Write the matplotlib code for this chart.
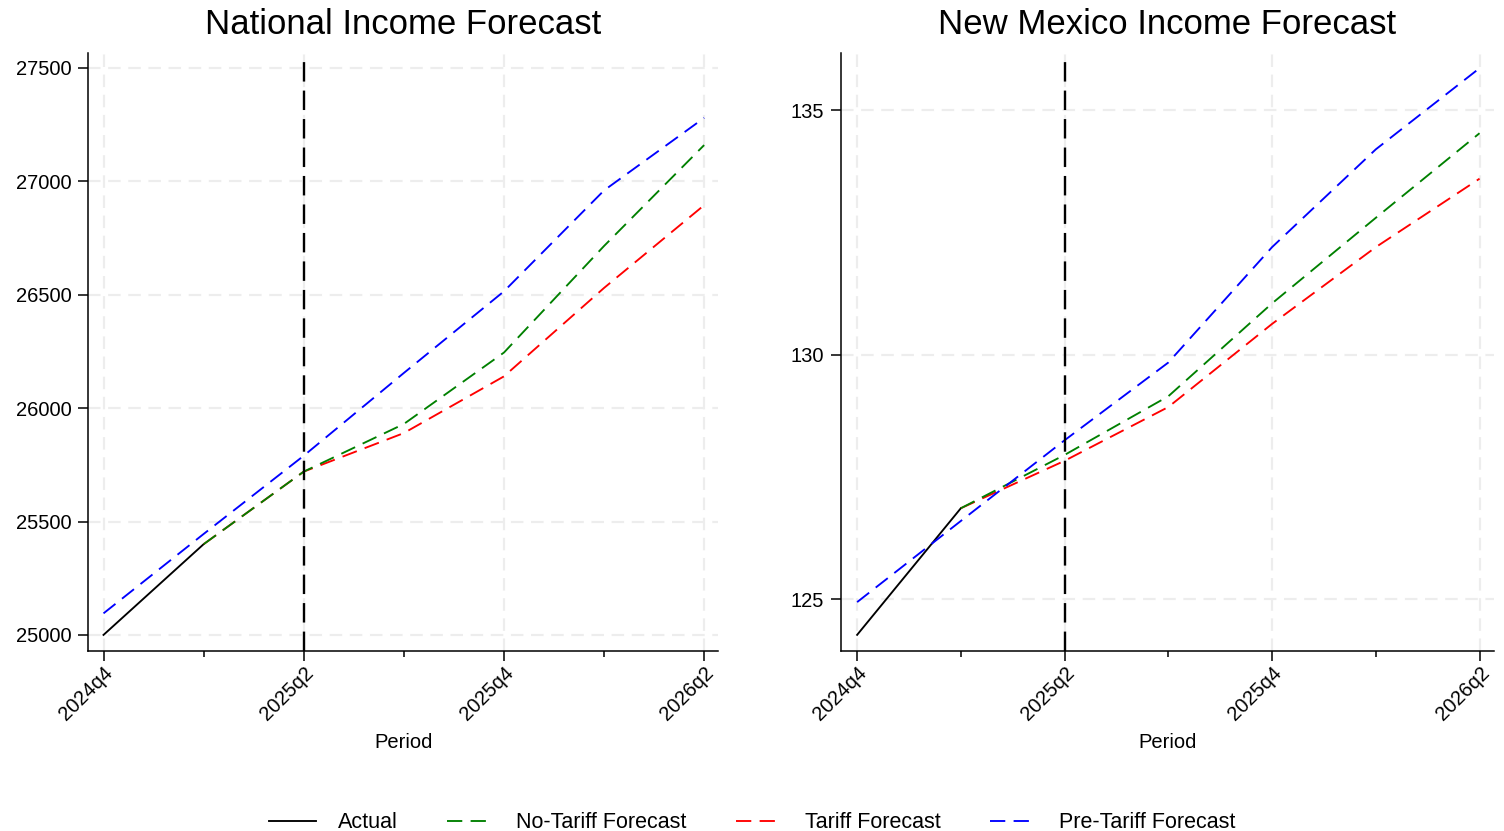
import matplotlib

matplotlib.use('Agg')
import matplotlib.pyplot as plt
import numpy as np

plt.rcParams['font.family'] = ['Liberation Sans', 'DejaVu Sans']
plt.rcParams['lines.scale_dashes'] = False

# quarters on the x axis (0 = 2024q4 ... 6 = 2026q2)
periods = ['2024q4', '2025q1', '2025q2', '2025q3', '2025q4', '2026q1', '2026q2']
labeled_periods = ['2024q4', '2025q2', '2025q4', '2026q2']

# national income
nat_actual = [25000, 25400]
nat_no_tariff = [25400, 25720, 25930, 26245, 26715, 27160]
nat_tariff = [25400, 25720, 25890, 26140, 26530, 26895]
nat_pre_tariff = [25095, 25445, 25790, 26155, 26515, 26960, 27280]
nat_yticks = [25000, 25500, 26000, 26500, 27000, 27500]

# New Mexico income
nm_actual = [124.27, 126.86]
nm_no_tariff = [126.86, 127.95, 129.15, 131.05, 132.80, 134.53]
nm_tariff = [126.86, 127.83, 128.93, 130.63, 132.20, 133.60]
nm_pre_tariff = [124.94, 126.60, 128.25, 129.84, 132.20, 134.20, 135.86]
nm_yticks = [125, 130, 135]

tariff_start = '2025q2'

x_all = np.arange(len(periods))
x_fc = x_all[1:]

fig = plt.figure(figsize=(15.04, 8.31), dpi=100)
ax1 = fig.add_axes([0.0585, 0.2166, 0.419, 0.7196])
ax2 = fig.add_axes([0.5592, 0.2166, 0.4342, 0.7196])

panels = [
    (ax1, 'National Income Forecast', nat_actual, nat_no_tariff, nat_tariff,
     nat_pre_tariff, nat_yticks, (24929, 27566)),
    (ax2, 'New Mexico Income Forecast', nm_actual, nm_no_tariff, nm_tariff,
     nm_pre_tariff, nm_yticks, (123.94, 136.17)),
]

dash = (0, (11, 6))
lw = 1.35
handles = None
for ax, title, actual, no_tariff, tariff, pre_tariff, yticks, ylim in panels:
    h_act, = ax.plot(x_all[:len(actual)], actual, color='black', lw=lw,
                     label='Actual', zorder=3)
    h_red, = ax.plot(x_fc, tariff, color='red', lw=lw, ls=dash,
                     label='Tariff Forecast', zorder=4)
    h_grn, = ax.plot(x_fc, no_tariff, color='green', lw=lw, ls=dash,
                     label='No-Tariff Forecast', zorder=5)
    h_blu, = ax.plot(x_all, pre_tariff, color='blue', lw=lw, ls=dash,
                     label='Pre-Tariff Forecast', zorder=6)
    handles = [h_act, h_grn, h_red, h_blu]

    # start of tariffs
    ax.axvline(periods.index(tariff_start), color='black', lw=1.7,
               ls=(0, (14, 6.5)), ymin=0.0, ymax=0.99, zorder=7)

    ax.set_xlim(-0.155, 6.14)
    ax.set_ylim(*ylim)
    major = [periods.index(p) for p in labeled_periods]
    ax.set_xticks(major)
    ax.set_xticklabels(labeled_periods, rotation=45, ha='right',
                       rotation_mode='anchor', fontsize=14.5)
    ax.set_xticks([i for i in x_all if i not in major], minor=True)
    ax.set_yticks(yticks)
    ax.tick_params(axis='y', labelsize=14.5, length=7.5, width=1.1, pad=4.5)
    ax.tick_params(axis='x', which='major', length=7.5, width=1.1, pad=1)
    ax.tick_params(axis='x', which='minor', length=4, width=1.1)

    ax.grid(True, which='major', color='#ededed', lw=1.6, ls=(0, (9, 5.5)),
            zorder=0)
    for side in ('top', 'right'):
        ax.spines[side].set_visible(False)
    for side in ('left', 'bottom'):
        ax.spines[side].set_linewidth(1.1)

    ax.set_title(title, fontsize=25, pad=14)
    ax.set_xlabel('Period', fontsize=14.5, labelpad=7)

fig.legend(handles, [h.get_label() for h in handles], loc='lower center',
           bbox_to_anchor=(0.5, -0.026), ncol=4, frameon=False, fontsize=15.5,
           handlelength=2.2, handletextpad=1.0, columnspacing=2.3)

fig.savefig('out.png', dpi=100)
